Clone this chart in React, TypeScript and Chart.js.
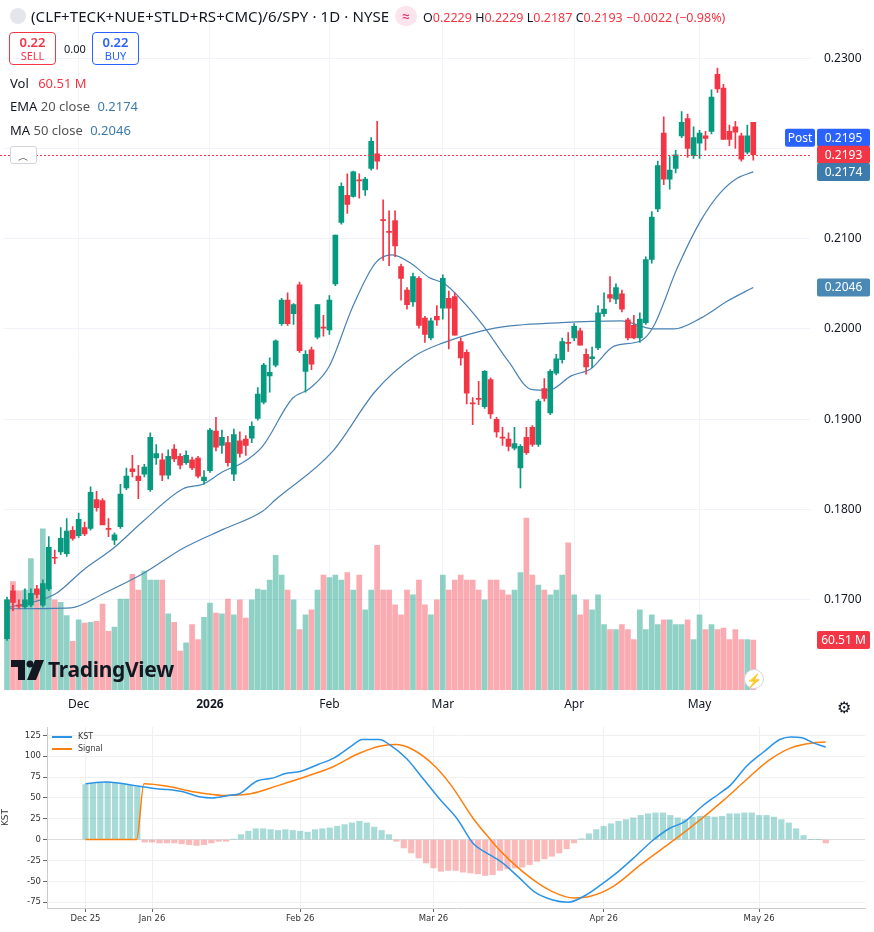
import React, { useEffect, useRef } from 'react';
import { Chart, registerables } from 'chart.js';
Chart.register(...registerables);

// ---------- Main price panel data (units of 0.0001) ----------
const opens = [1657,1710,1694,1692,1694,1712,1694,1712,1747,1753,1751,1777,1771,1780,1779,1811,1810,1779,1766,1781,1824,1845,1837,1839,1822,1857,1855,1838,1867,1859,1852,1855,1857,1832,1843,1887,1871,1874,1839,1876,1878,1879,1901,1919,1948,1960,2006,2032,2017,2049,1953,1977,1991,2002,1999,2050,2118,2148,2147,2165,2154,2178,2194,2121,2108,2120,2069,2043,2030,2056,2012,1990,2014,2023,2034,2036,1986,1974,1918,1923,1914,1944,1900,1880,1878,1868,1846,1880,1891,1872,1934,1907,1951,1966,1985,1990,1998,1972,1967,1979,2017,2038,2033,2039,2010,2004,1990,2007,2077,2133,2217,2166,2178,2214,2233,2192,2206,2214,2219,2282,2267,2219,2224,2214,2196,2229];
const highs = [1703,1716,1700,1712,1712,1716,1722,1770,1755,1780,1790,1781,1796,1786,1825,1820,1812,1790,1774,1828,1846,1860,1849,1850,1885,1872,1862,1866,1872,1862,1865,1858,1859,1843,1890,1902,1888,1881,1889,1886,1882,1897,1935,1962,1968,1988,2034,2040,2028,2052,1976,1980,2027,2015,2037,2104,2162,2172,2175,2172,2168,2212,2230,2143,2131,2131,2072,2046,2062,2058,2014,2012,2026,2060,2042,2040,1990,1977,1924,1942,1954,1946,1902,1891,1885,1891,1872,1891,1893,1922,1945,1955,1972,1990,1996,2006,2001,1978,1980,2026,2040,2058,2050,2043,2012,2015,2018,2080,2130,2186,2235,2191,2198,2241,2238,2224,2220,2219,2265,2289,2271,2226,2230,2217,2226,2229];
const lows = [1655,1688,1690,1690,1692,1702,1692,1710,1740,1750,1748,1766,1769,1771,1777,1798,1785,1770,1761,1779,1822,1836,1812,1836,1820,1850,1832,1834,1853,1845,1850,1844,1835,1828,1841,1865,1862,1848,1832,1858,1860,1874,1899,1917,1930,1958,2004,2004,2005,1974,1930,1955,1989,1992,1994,2048,2116,2128,2146,2145,2148,2176,2177,2076,2070,2080,2032,2022,2025,2001,1985,1988,2004,2011,1978,1993,1960,1917,1894,1916,1912,1901,1880,1871,1865,1866,1824,1861,1870,1870,1920,1905,1949,1962,1975,1987,1982,1950,1957,1977,2014,2030,2028,2019,1988,1989,1985,2005,2073,2130,2160,2155,2173,2212,2190,2189,2189,2198,2216,2262,2210,2203,2200,2186,2194,2187];
const closes = [1700,1697,1693,1700,1707,1706,1718,1758,1746,1768,1776,1768,1789,1773,1819,1802,1783,1778,1772,1817,1837,1842,1832,1847,1880,1862,1838,1859,1856,1849,1860,1846,1837,1836,1888,1869,1880,1852,1883,1862,1871,1892,1928,1960,1952,1987,2032,2006,2027,1976,1972,1961,2027,2001,2032,2104,2158,2138,2174,2164,2166,2208,2186,2120,2107,2092,2056,2027,2058,2004,1994,2009,2010,2056,2023,1993,1968,1929,1917,1922,1953,1906,1886,1879,1870,1873,1870,1863,1872,1920,1923,1953,1967,1986,1984,2003,1982,1958,1969,2018,2022,2034,2046,2022,1990,1990,2011,2077,2124,2181,2166,2176,2193,2229,2200,2212,2217,2211,2257,2266,2210,2210,2218,2188,2214,2193];
const volumesM = [109,131,120,121,159,120,195,125,109,106,90,59,85,81,82,83,104,71,76,110,110,140,121,144,133,133,133,92,82,47,57,79,61,88,105,93,92,110,91,109,87,109,122,
121,133,163,139,121,109,73,91,97,121,139,136,139,133,142,121,139,97,121,175,121,121,103,91,121,115,133,103,91,109,139,121,133,139,133,133,121,109,133,133,121,115,121,142,208,139,127,121,115,121,139,178,115,91,109,97,115,79,73,73,79,73,61,97,73,91,79,85,85,79,79,85,61,91,73,79,73,75,61,73,61,61,60.51];
const PRICE_UNIT = 0.0001;
const SLOT_COUNT = 135;
const monthTickIdx = [12, 34, 54, 73, 95, 116];
const monthTickText = ['Dec', '2026', 'Feb', 'Mar', 'Apr', 'May'];
const priceTicks = [0.17, 0.18, 0.19, 0.2, 0.21, 0.22, 0.23];

const emaIdx = [0, 8, 12.8, 17.8, 22.8, 29.5, 32.8, 36.2, 39.5, 42.8, 47.8, 50.7, 54, 57.8, 61.7, 64.5, 67.8, 70.7, 73.3, 79.5, 84, 87.8, 90.7, 94.5, 97.8, 101.7, 106.2, 108.3, 112.3, 116.2, 119.5, 122.3, 125];
const emaVal = [0.1691, 0.1706, 0.1733, 0.1757, 0.1787, 0.1823, 0.1828, 0.1842, 0.1852, 0.187, 0.1923, 0.1934, 0.1959, 0.2023, 0.2073, 0.2082, 0.2072, 0.2057, 0.205, 0.2006, 0.1964, 0.1933, 0.1932, 0.1948, 0.1956, 0.1981, 0.1987, 0.2003, 0.2068, 0.212, 0.2151, 0.2167, 0.2174];
const maIdx = [0, 10.7, 16.2, 22.8, 29.5, 36.2, 42.8, 45, 54.5, 61.7, 68.3, 72.8, 81.7, 92.8, 102.8, 108.3, 111.7, 116.2, 120.7, 125];
const maVal = [0.169, 0.1691, 0.1707, 0.1729, 0.1757, 0.1778, 0.1798, 0.1811, 0.1864, 0.1931, 0.197, 0.1984, 0.2001, 0.2007, 0.2009, 0.2, 0.2, 0.2012, 0.2031, 0.2046];

// ---------- KST panel data ----------
const kstIdx = [0, 2.8, 7.3, 9.6, 11.1, 13.3, 15.6, 17.1, 19.3, 20.8, 23.1, 25.4, 26.9, 29.1, 31.4, 33.6, 35.9, 37.4, 39.7, 41.2, 43.4, 45.7, 47.9, 50.2, 52.4, 54, 56.2, 58.5, 60.7, 63, 65.2, 67.5, 69.8, 72, 74.3, 76.5, 78.8, 81, 83.3, 85.6, 87.1, 89.3, 91.6, 93.8, 95.3, 96.8, 98.3, 100];
const kstVal = [67, 69, 64, 61, 60, 57, 51, 50, 53, 55, 70, 74, 79, 82, 90, 98, 112, 120, 120, 113, 97, 72, 48, 25, -5, -15, -27, -45, -63, -72, -75, -67, -53, -38, -20, -2, 13, 22, 40, 55, 65, 88, 105, 120, 123, 122, 116, 111];
const sigIdx = [0, 6.9, 7.9, 11.1, 14.8, 18.6, 22.3, 26.1, 30.6, 33.6, 36.6, 39.7, 41.9, 44.2, 47.2, 49.4, 52.4, 54.7, 56.2, 60, 63, 66, 68.2, 71.3, 75, 78.8, 81.8, 86.3, 89.3, 92.3, 95.3, 98.3, 100];
const sigVal = [0, 0, 67, 64, 57, 53, 55, 65, 78, 88, 102, 112, 114, 108, 88, 65, 25, 0, -15, -45, -62, -70, -68, -56, -30, -5, 15, 48, 72, 95, 110, 116, 117];
const histVal = [66,67,68,69,68,67,65,63,-3,-3,-4,-4,-4,-5,-6,-7,-6,-4,-2,-2,0.5,6,10,13,13,12,11,12,11,10,9,12,13,14,16,18,20,22,20,15,11,6,-2,-10,-16,-22,-28,-34,-38,-37,-37,-39,-40,-41,-43,-42,-37,-35,-34,-33,-30,-26,-23,-20,-16,-11,-4,1,7,12,16,19,22,24,26,29,31,32,32,29,26,24,27,28,28,27,28,31,31,32,32,29,29,27,24,20,13,5,0,0,-4];
const kstTickIdx = [0, 9, 29, 47, 70, 91];
const kstTickText = ['Dec 25', 'Jan 26', 'Feb 26', 'Mar 26', 'Apr 26', 'May 26'];

const UP = '#089981';
const DOWN = '#f23645';
const FONT = "'Noto Sans', Roboto, sans-serif";

function badge(ctx: CanvasRenderingContext2D, x: number, y: number, w: number, text: string, bg: string) {
  ctx.fillStyle = bg;
  ctx.beginPath();
  (ctx as any).roundRect ? (ctx as any).roundRect(x, y - 9, w, 18, 2) : ctx.rect(x, y - 9, w, 18);
  ctx.fill();
  ctx.fillStyle = '#fff';
  ctx.font = `12px ${FONT}`;
  ctx.textAlign = 'center';
  ctx.textBaseline = 'middle';
  ctx.fillText(text, x + w / 2, y + 0.5);
}

const overlayPlugin = {
  id: 'overlay',
  afterDatasetsDraw(chart: any) {
    const ctx = chart.ctx as CanvasRenderingContext2D;
    const y = chart.scales.y;
    const area = chart.chartArea;
    const last = closes[closes.length - 1] * PRICE_UNIT;
    const yl = y.getPixelForValue(last);
    ctx.save();
    ctx.strokeStyle = DOWN;
    ctx.setLineDash([2, 2]);
    ctx.lineWidth = 1;
    ctx.beginPath();
    ctx.moveTo(0, Math.round(yl) + 0.5);
    ctx.lineTo(area.right, Math.round(yl) + 0.5);
    ctx.stroke();
    ctx.setLineDash([]);
    const bx = area.right + 7;
    badge(ctx, bx, yl - 17, 53, '0.2195', '#2962ff');
    badge(ctx, bx - 32, yl - 17, 30, 'Post', '#2962ff');
    badge(ctx, bx, yl, 53, last.toFixed(4), DOWN);
    badge(ctx, bx, y.getPixelForValue(emaVal[emaVal.length - 1]), 53, emaVal[emaVal.length - 1].toFixed(4), '#3d7bad');
    badge(ctx, bx, y.getPixelForValue(maVal[maVal.length - 1]), 53, maVal[maVal.length - 1].toFixed(4), '#4a89b5');
    const yv = chart.scales.yVol.getPixelForValue(volumesM[volumesM.length - 1]);
    badge(ctx, bx, yv, 53, volumesM[volumesM.length - 1].toFixed(2) + ' M', DOWN);
    ctx.restore();
  },
};

function sparse(idx: number[], vals: number[]) {
  return idx.map((x, i) => ({ x, y: vals[i] }));
}

function MainChart() {
  const ref = useRef<HTMLCanvasElement>(null);
  useEffect(() => {
    const labels = Array.from({ length: SLOT_COUNT }, (_, i) => {
      const k = monthTickIdx.indexOf(i);
      return k >= 0 ? monthTickText[k] : '';
    });
    const isUp = closes.map((c, i) => c >= opens[i]);
    const chart = new Chart(ref.current!, {
      type: 'bar',
      data: {
        labels,
        datasets: [
          {
            type: 'bar', data: closes.map((c, i) => [Math.min(opens[i], c) * PRICE_UNIT, Math.max(opens[i], c) * PRICE_UNIT]) as any,
            backgroundColor: isUp.map((u) => (u ? UP : DOWN)), barThickness: 5, minBarLength: 1, grouped: false, order: 0, yAxisID: 'y',
          } as any,
          {
            type: 'bar', data: lows.map((l, i) => [l * PRICE_UNIT, highs[i] * PRICE_UNIT]) as any,
            backgroundColor: isUp.map((u) => (u ? UP : DOWN)), barThickness: 1, grouped: false, order: 1, yAxisID: 'y',
          } as any,
          {
            type: 'line', data: sparse(emaIdx, emaVal) as any, borderColor: '#4a82b4', borderWidth: 1.2, pointRadius: 0,
            cubicInterpolationMode: 'monotone', order: 2, yAxisID: 'y', parsing: false,
          } as any,
          {
            type: 'line', data: sparse(maIdx, maVal) as any, borderColor: '#4a82b4', borderWidth: 1.2, pointRadius: 0,
            cubicInterpolationMode: 'monotone', order: 3, yAxisID: 'y', parsing: false,
          } as any,
          {
            type: 'bar', data: volumesM, backgroundColor: isUp.map((u) => (u ? 'rgba(8,153,129,0.45)' : 'rgba(242,54,69,0.42)')),
            barThickness: 5, grouped: false, order: 10, yAxisID: 'yVol',
          } as any,
        ],
      },
      options: {
        animation: false, responsive: false, events: [],
        layout: { padding: 0 },
        plugins: { legend: { display: false }, tooltip: { enabled: false } },
        scales: {
          x: {
            type: 'category', offset: true,
            grid: { color: (c: any) => (monthTickIdx.includes(c.index) ? '#f0f3fa' : 'transparent'), drawTicks: false, offset: false },
            border: { display: false },
            ticks: {
              autoSkip: false, maxRotation: 0, padding: 7, color: '#131722',
              font: (c: any) => ({ family: FONT, size: 12, weight: c.tick && c.tick.label === '2026' ? 'bold' : 'normal' }),
            },
            afterFit: (s: any) => { s.height = 26; },
          },
          y: {
            position: 'right', min: 0.16, max: 0.2341,
            afterBuildTicks: (s: any) => { s.ticks = priceTicks.map((v) => ({ value: v })); },
            grid: { color: '#f0f3fa', drawTicks: false },
            border: { display: false },
            ticks: { color: '#131722', padding: 14, font: { family: FONT, size: 12 }, callback: (v: any) => Number(v).toFixed(4) },
            afterFit: (s: any) => { s.width = 64; },
          },
          yVol: { display: false, min: 0, max: 809 },
        },
      },
      plugins: [overlayPlugin],
    });
    return () => chart.destroy();
  }, []);
  return <canvas ref={ref} width={874} height={716} style={{ position: 'absolute', left: 0, top: 0, width: 874, height: 716 }} />;
}

function KstChart() {
  const ref = useRef<HTMLCanvasElement>(null);
  useEffect(() => {
    const chart = new Chart(ref.current!, {
      type: 'bar',
      data: {
        datasets: [
          { type: 'line', data: sparse(kstIdx, kstVal) as any, borderColor: '#2b93e6', borderWidth: 1.5, pointRadius: 0, cubicInterpolationMode: 'monotone', order: 0 } as any,
          { type: 'line', data: sparse(sigIdx, sigVal) as any, borderColor: '#ff7f0e', borderWidth: 1.5, pointRadius: 0, cubicInterpolationMode: 'monotone', order: 1 } as any,
          {
            type: 'bar', data: histVal.map((v, i) => ({ x: i, y: v })) as any,
            backgroundColor: histVal.map((v) => (v >= 0 ? 'rgba(38,166,154,0.4)' : 'rgba(239,83,80,0.4)')),
            barThickness: 5.5, order: 2,
          } as any,
        ],
      },
      options: {
        animation: false, responsive: false, events: [],
        layout: { padding: { top: 11, right: 9, left: 0, bottom: 0 } },
        plugins: { legend: { display: false }, tooltip: { enabled: false } },
        scales: {
          x: {
            type: 'linear', min: -5.2, max: 105.3, offset: false,
            afterBuildTicks: (s: any) => { s.ticks = kstTickIdx.map((v) => ({ value: v })); },
            grid: { color: '#f0f0f0', tickLength: 4, tickColor: '#666', offset: false },
            border: { color: '#cccccc' },
            ticks: { color: '#333', font: { family: 'DejaVu Sans', size: 8.5 }, maxRotation: 0, padding: 2,
              callback: (v: any) => kstTickText[kstTickIdx.indexOf(Number(v))] ?? '' },
            afterFit: (s: any) => { s.height = 24; },
          },
          y: {
            min: -82, max: 135,
            afterBuildTicks: (s: any) => { s.ticks = [-75, -50, -25, 0, 25, 50, 75, 100, 125].map((v) => ({ value: v })); },
            grid: { color: (c: any) => (c.tick && c.tick.value === 0 ? '#dddddd' : '#f0f0f0'), tickLength: 4, tickColor: '#666' },
            border: { color: '#cccccc' },
            title: { display: true, text: 'KST', color: '#333', font: { family: 'DejaVu Sans', size: 9 }, padding: 0 },
            ticks: { color: '#333', font: { family: 'DejaVu Sans', size: 8.5 }, padding: 2 },
            afterFit: (s: any) => { s.width = 47; },
          },
        },
      },
    });
    return () => chart.destroy();
  }, []);
  return <canvas ref={ref} width={874} height={216} style={{ position: 'absolute', left: 0, top: 716, width: 874, height: 216 }} />;
}

const abs = (l: number, t: number, extra: any = {}) => ({ position: 'absolute' as const, left: l, top: t, ...extra });

export default function App() {
  useEffect(() => { document.body.style.margin = '0'; }, []);
  const red = '#f23645';
  return (
    <div style={{ position: 'relative', width: 874, height: 932, background: '#fff', fontFamily: FONT, color: '#131722', overflow: 'hidden' }}>
      <MainChart />
      <KstChart />
      <div style={abs(10, 8, { width: 16, height: 16, borderRadius: 8, background: '#e4e6eb' })} />
      <div style={abs(31, 6, { fontSize: 15, whiteSpace: 'nowrap', letterSpacing: 0.1 })}>(CLF+TECK+NUE+STLD+RS+CMC)/6/SPY · 1D · NYSE</div>
      <div style={abs(395, 6, { width: 22, height: 20, borderRadius: 10, background: '#fce4ec', color: '#e0336b', fontSize: 14, textAlign: 'center', lineHeight: '20px' })}>≈</div>
      <div style={abs(423, 9, { fontSize: 12.5, whiteSpace: 'nowrap' })}>
        O<span style={{ color: red }}>0.2229</span> H<span style={{ color: red }}>0.2229</span> L<span style={{ color: red }}>0.2187</span> C<span style={{ color: red }}>0.2193</span> <span style={{ color: red }}>−0.0022 (−0.98%)</span>
      </div>
      <div style={abs(9, 32, { width: 47, height: 33, border: `1px solid ${red}`, borderRadius: 4, color: red, textAlign: 'center', lineHeight: 1.15, boxSizing: 'border-box', paddingTop: 2 })}>
        <div style={{ fontSize: 13, fontWeight: 600 }}>0.22</div><div style={{ fontSize: 11 }}>SELL</div>
      </div>
      <div style={abs(64, 41, { fontSize: 11 })}>0.00</div>
      <div style={abs(92, 32, { width: 47, height: 33, border: '1px solid #2962ff', borderRadius: 4, color: '#2962ff', textAlign: 'center', lineHeight: 1.15, boxSizing: 'border-box', paddingTop: 2 })}>
        <div style={{ fontSize: 13, fontWeight: 600 }}>0.22</div><div style={{ fontSize: 11 }}>BUY</div>
      </div>
      <div style={abs(10, 74, { fontSize: 13 })}>Vol <span style={{ color: red, marginLeft: 6 }}>60.51 M</span></div>
      <div style={abs(10, 97, { fontSize: 13 })}>EMA <span style={{ color: '#555' }}>20 close</span> <span style={{ color: '#3d7bad', marginLeft: 4 }}>0.2174</span></div>
      <div style={abs(10, 121, { fontSize: 13 })}>MA <span style={{ color: '#555' }}>50 close</span> <span style={{ color: '#3d7bad', marginLeft: 4 }}>0.2046</span></div>
      <div style={abs(10, 146, { width: 27, height: 18, border: '1px solid #d1d4dc', borderRadius: 3, background: '#fff', fontSize: 11, textAlign: 'center', lineHeight: '20px', boxSizing: 'border-box' })}>︿</div>
      <svg style={abs(11, 660)} width={34} height={20} viewBox="0 0 34 20">
        <path d="M0 0 H14 V20 H7 V7 H0 Z" fill="#131722" />
        <circle cx="19" cy="4" r="3.5" fill="#131722" />
        <path d="M24 0 H33 L25 20 H16 Z" fill="#131722" />
      </svg>
      <div style={abs(48, 655, { fontSize: 21, fontWeight: 700, letterSpacing: -0.3 })}>TradingView</div>
      <div style={abs(744, 669, { width: 20, height: 20, borderRadius: 10, border: '1px solid #d1d4dc', background: '#fff', color: '#9c27b0', fontSize: 13, textAlign: 'center', lineHeight: '20px', boxSizing: 'border-box' })}>⚡</div>
      <div style={abs(837, 696, { fontSize: 16, color: '#131722' })}>⚙</div>
      <div style={abs(52, 731, { fontSize: 8, fontFamily: 'DejaVu Sans', color: '#333', lineHeight: '12px' })}>
        <div><span style={{ display: 'inline-block', width: 20, height: 2, background: '#2b93e6', verticalAlign: 'middle', marginRight: 6 }} />KST</div>
        <div><span style={{ display: 'inline-block', width: 20, height: 2, background: '#ff7f0e', verticalAlign: 'middle', marginRight: 6 }} />Signal</div>
      </div>
    </div>
  );
}
